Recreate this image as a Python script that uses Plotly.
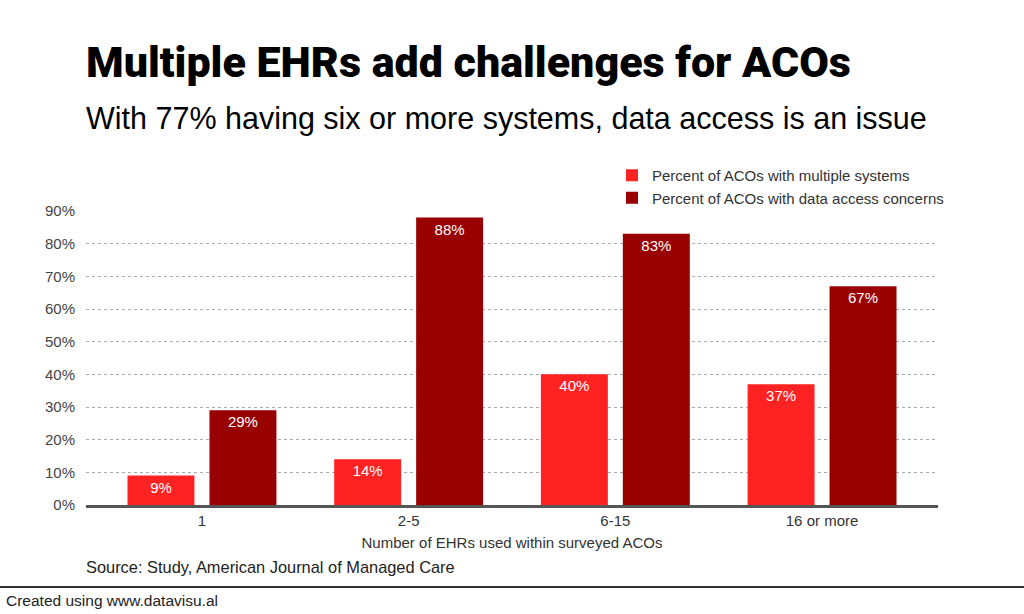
import plotly.graph_objects as go

categories = ["1", "2-5", "6-15", "16 or more"]
multiple_systems = [9, 14, 40, 37]
access_concerns = [29, 88, 83, 67]
series_names = ["Percent of ACOs with multiple systems", "Percent of ACOs with data access concerns"]
tick_vals = [0, 10, 20, 30, 40, 50, 60, 70, 80, 90]
tick_text = [f"{v}%" for v in tick_vals]

ML, MR, MT, MB = 86, 86, 211, 109
PLOT_H = 614 - MT - MB
PLOT_W = 1024 - ML - MR
FONT = "Liberation Sans, Arial"

fig = go.Figure()
for vals, name, color in [(multiple_systems, series_names[0], "#ff2222"),
                          (access_concerns, series_names[1], "#990000")]:
    fig.add_trace(go.Bar(x=categories, y=vals, name=name,
                         marker=dict(color=color, line=dict(width=0)),
                         text=[f"{v}%" for v in vals], textposition="inside",
                         insidetextanchor="end", textangle=0,
                         textfont=dict(color="white", size=15, family=FONT)))

fig.update_layout(
    width=1024, height=614,
    margin=dict(l=ML, r=MR, t=MT, b=MB),
    paper_bgcolor="white", plot_bgcolor="white",
    barmode="group", bargap=0.207, bargroupgap=0.183,
    font=dict(family=FONT, color="#333333", size=15),
    showlegend=True,
    legend=dict(x=(612 - ML) / PLOT_W, xanchor="left", y=1 + (MT - 159) / PLOT_H, yanchor="top",
                bgcolor="rgba(0,0,0,0)", font=dict(size=15, color="#333333"),
                itemwidth=30, tracegroupgap=0),
    uniformtext=dict(minsize=15, mode="show"),
)
fig.update_xaxes(range=[-0.561, 3.561], showgrid=False, showline=True, linecolor="#555555", linewidth=3,
                 ticks="", tickfont=dict(size=15, color="#333333"),
                 title=dict(text="Number of EHRs used within surveyed ACOs",
                            font=dict(size=15, color="#333333"), standoff=10))
fig.update_yaxes(range=[0, 90], tickvals=tick_vals, ticktext=tick_text,
                 showgrid=True, gridcolor="#aaaaaa", griddash="dot", gridwidth=1,
                 zeroline=False, showline=False, ticks="", ticklabelstandoff=10,
                 tickfont=dict(size=15, color="#444444"))

fig.add_annotation(text="Multiple EHRs add challenges for ACOs",
                   xref="paper", yref="paper",
                   x=0, y=1.0, xanchor="left", yanchor="middle", showarrow=False,
                   xshift=-2, yshift=MT - 62,
                   font=dict(size=43, color="black", family="Roboto", weight=900))
fig.add_annotation(text="With 77% having six or more systems, data access is an issue", xref="paper", yref="paper",
                   x=0, y=1.0, xanchor="left", yanchor="middle", showarrow=False,
                   xshift=-2, yshift=MT - 118,
                   font=dict(size=30.5, color="black", family=FONT))
fig.add_annotation(text="Source: Study, American Journal of Managed Care", xref="paper", yref="paper",
                   x=0, y=0, xanchor="left", yanchor="middle", showarrow=False,
                   xshift=-2, yshift=505 - 567,
                   font=dict(size=16.4, color="#222222", family=FONT))
fig.add_shape(type="line", xref="paper", yref="paper", x0=-ML / PLOT_W, x1=(1024 - ML) / PLOT_W,
              y0=-(587 - 505) / PLOT_H, y1=-(587 - 505) / PLOT_H,
              line=dict(color="#333333", width=2))
fig.add_annotation(text="Created using www.datavisu.al", xref="paper", yref="paper",
                   x=-ML / PLOT_W, y=0, xanchor="left", yanchor="middle", showarrow=False,
                   xshift=4, yshift=505 - 600,
                   font=dict(size=15.5, color="#222222", family=FONT))

fig.write_html("out.html")
